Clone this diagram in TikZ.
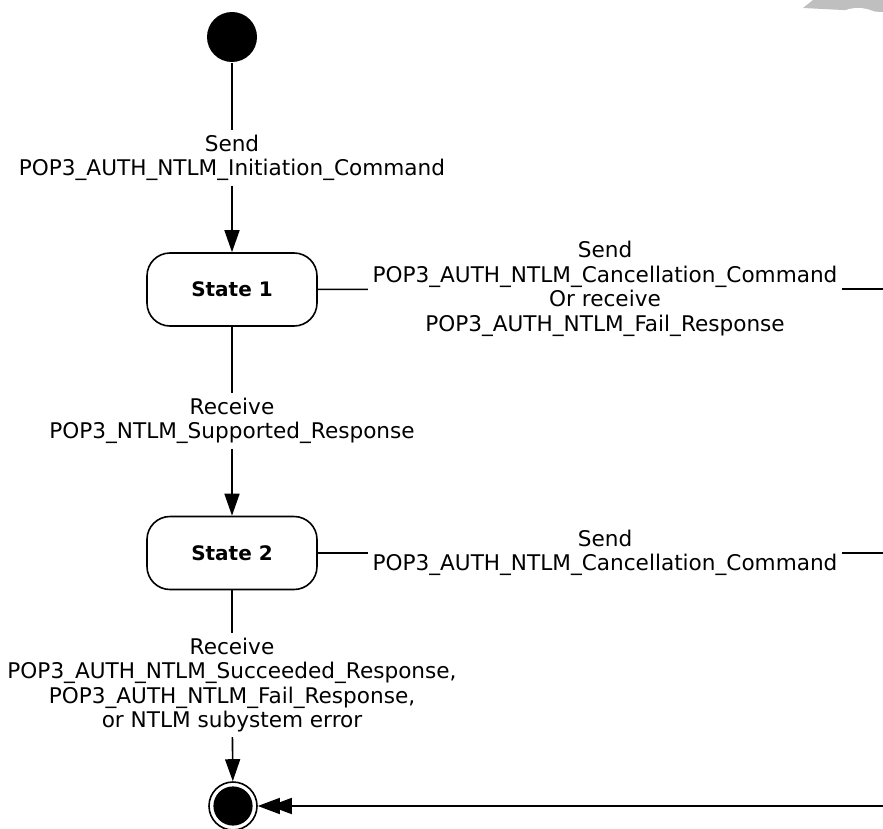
\documentclass[tikz,border=0pt]{standalone}
\usepackage{fontspec}
\setmainfont{DejaVu Sans}
\usetikzlibrary{arrows.meta}

\tikzset{
  every path/.style={line width=0.8pt},
  pseudo/.style={circle, fill=black, minimum size=25pt, inner sep=0pt},
  final/.style={circle, draw, minimum size=24pt, inner sep=0pt,
    path picture={\fill (path picture bounding box.center) circle (9.8pt);}},
  state/.style={draw, rounded corners=11.5pt, minimum width=85pt, minimum height=36.5pt,
    font=\bfseries\fontsize{10}{12}\selectfont},
  trans/.style={align=center, inner sep=2pt, font=\fontsize{10.8}{12.3}\selectfont},
  tip/.style={-{Triangle[length=11pt,width=7.5pt]}},
  dtip/.style={-{Triangle[length=11pt,width=8pt,sep=-5pt]Triangle[length=11pt,width=8pt]}}
}

\begin{document}
\begin{tikzpicture}[x=0.5pt, y=-0.5pt]
\useasboundingbox (0,0) rectangle (883,829);
\fill[black!25] (803,8) -- (813,0) -- (883,0) -- (883,12) -- cycle;
\fill[white] (858,46) circle (19pt);

\node[pseudo] (I) at (232,37) {};
\node[trans] (L0) at (232,158) {Send\\POP3\_AUTH\_NTLM\_Initiation\_Command};
\node[state] (S1) at (232,289.5) {State 1};
\node[trans] (L1) at (605,289) {Send\\POP3\_AUTH\_NTLM\_Cancellation\_Command\\Or receive\\POP3\_AUTH\_NTLM\_Fail\_Response};
\node[trans] (L2) at (232,421) {Receive\\POP3\_NTLM\_Supported\_Response};
\node[state] (S2) at (232,553) {State 2};
\node[trans] (L3) at (605,553) {Send\\POP3\_AUTH\_NTLM\_Cancellation\_Command};
\node[trans] (L4) at (232,685) {Receive\\POP3\_AUTH\_NTLM\_Succeeded\_Response,\\POP3\_AUTH\_NTLM\_Fail\_Response,\\or NTLM subystem error};
\node[final] (F) at (233,806) {};

\coordinate (R1) at (883,289);
\coordinate (R2) at (883,553);
\coordinate (R3) at (883,806);

\draw (I) -- (L0);
\draw[tip] (L0) -- (S1);
\draw (S1) -- (L1) -- (R1);
\draw (S1) -- (L2);
\draw[tip] (L2) -- (S2);
\draw (S2) -- (L3) -- (R2);
\draw (S2) -- (L4);
\draw[tip] (L4) -- (F);
\draw[dtip] (R3) -- (F);
\end{tikzpicture}
\end{document}
